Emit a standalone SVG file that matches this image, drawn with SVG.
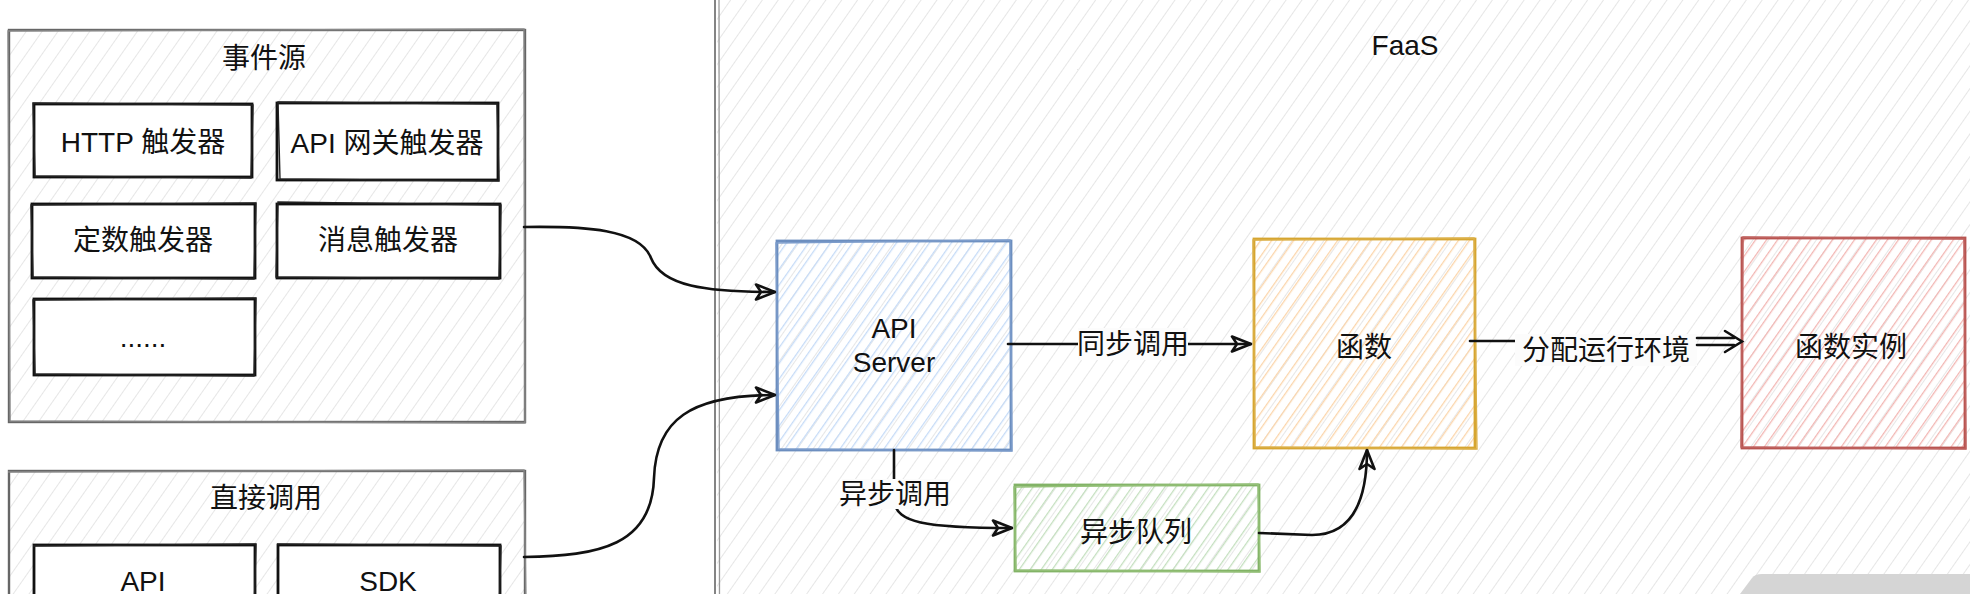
<svg xmlns="http://www.w3.org/2000/svg" width="1970" height="594" viewBox="0 0 1970 594">
<style>
  text { font-family: "Liberation Sans", "Noto Sans CJK SC", Arial, sans-serif; font-size: 28px; fill: #111; text-anchor: middle; }
  .outer { stroke: #666; stroke-width: 2.4; }
  .outer2 { fill: none; stroke: #888; stroke-width: 1.4; }
  .inner { fill: #fff; stroke: #111; stroke-width: 2.8; }
  .inner2 { fill: none; stroke: #222; stroke-width: 1.4; }
  .conn { fill: none; stroke: #111; stroke-width: 2.6; stroke-linecap: round; }
  .lbl { fill: #fcfcfc; }
</style>
<defs>
  <pattern id="hGray" width="13" height="13" patternUnits="userSpaceOnUse" patternTransform="rotate(35)">
    <line x1="0" y1="-1" x2="0" y2="14" stroke="#e3e3e3" stroke-width="1.8"/>
  </pattern>
  <pattern id="hBlue" width="9" height="9" patternUnits="userSpaceOnUse" patternTransform="rotate(35)">
    <line x1="0" y1="-1" x2="0" y2="10" stroke="#c6dbf7" stroke-width="2.6"/>
  </pattern>
  <pattern id="hOrange" width="9" height="9" patternUnits="userSpaceOnUse" patternTransform="rotate(35)">
    <line x1="0" y1="-1" x2="0" y2="10" stroke="#fbd5ab" stroke-width="2.6"/>
  </pattern>
  <pattern id="hRed" width="9" height="9" patternUnits="userSpaceOnUse" patternTransform="rotate(35)">
    <line x1="0" y1="-1" x2="0" y2="10" stroke="#f2b6b3" stroke-width="2.6"/>
  </pattern>
  <pattern id="hGreen" width="9" height="9" patternUnits="userSpaceOnUse" patternTransform="rotate(35)">
    <line x1="0" y1="-1" x2="0" y2="10" stroke="#c4dfbf" stroke-width="2.6"/>
  </pattern>
  <marker id="arr" viewBox="0 0 22 18" refX="21" refY="9" markerWidth="22" markerHeight="18" markerUnits="userSpaceOnUse" orient="auto">
    <path d="M2,1.5 L21,9 L2,16.5 L7,9 Z" fill="none" stroke="#111" stroke-width="2.6" stroke-linejoin="round"/>
  </marker>
</defs>

<rect x="0" y="0" width="1970" height="594" fill="#fff"/>

<g id="faas">
  <rect x="717" y="-10" width="1270" height="620" fill="url(#hGray)"/>
  <line x1="715" y1="0" x2="715" y2="594" stroke="#777" stroke-width="1.8"/>
  <line x1="719" y1="0" x2="719.5" y2="594" stroke="#999" stroke-width="1.3"/>
  <text x="1405" y="55">FaaS</text>
  <path d="M1740,594 L1752,578 Q1755,574 1762,574 L1970,574 L1970,594 Z" fill="#d5d5d5"/>
</g>

<g id="event-source">
  <rect x="9" y="30" width="516" height="392" fill="url(#hGray)" class="outer"/>
  <path d="M8,31 L524,29 L525,423 L10,421 Z" class="outer2"/>
  <text x="264" y="68">事件源</text>
</g>
<g id="http-trigger">
  <rect x="34" y="104" width="218" height="73" class="inner"/>
  <path d="M33,103 L253,105 L251,178 L35,176 Z" class="inner2"/>
  <text x="143" y="152">HTTP 触发器</text>
</g>
<g id="api-gateway-trigger">
  <rect x="277" y="103" width="221" height="77" class="inner"/>
  <path d="M278,102 L497,104 L499,181 L280,179 Z" class="inner2"/>
  <text x="387" y="153">API 网关触发器</text>
</g>
<g id="timer-trigger">
  <rect x="32" y="204" width="223" height="74" class="inner"/>
  <path d="M31,205 L256,203 L254,279 L33,277 Z" class="inner2"/>
  <text x="143" y="250">定数触发器</text>
</g>
<g id="message-trigger">
  <rect x="277" y="204" width="223" height="74" class="inner"/>
  <path d="M278,202 L501,205 L499,279 L276,277 Z" class="inner2"/>
  <text x="388" y="250">消息触发器</text>
</g>
<g id="more-trigger">
  <rect x="34" y="299" width="221" height="76" class="inner"/>
  <path d="M33,300 L256,298 L254,376 L35,374 Z" class="inner2"/>
  <text x="143" y="347">......</text>
</g>

<g id="direct-call">
  <rect x="9" y="471" width="516" height="140" fill="url(#hGray)" class="outer"/>
  <path d="M8,472 L524,470 L526,610" class="outer2"/>
  <text x="266" y="508">直接调用</text>
</g>
<g id="api-client">
  <rect x="34" y="545" width="221" height="70" class="inner"/>
  <path d="M33,546 L256,544 L254,615" class="inner2"/>
  <text x="143" y="591">API</text>
</g>
<g id="sdk-client">
  <rect x="278" y="545" width="222" height="70" class="inner"/>
  <path d="M277,544 L501,546 L499,615" class="inner2"/>
  <text x="388" y="591">SDK</text>
</g>

<g id="api-server">
  <rect x="777" y="241" width="234" height="209" fill="url(#hBlue)" stroke="#6c8ebf" stroke-width="2.8"/>
  <path d="M776,243 L1010,240 L1012,451 L779,449 Z" fill="none" stroke="#7c9ccb" stroke-width="1.4"/>
  <text x="894" y="338">API</text>
  <text x="894" y="372">Server</text>
</g>
<g id="function">
  <rect x="1254" y="239" width="221" height="209" fill="url(#hOrange)" stroke="#d6a530" stroke-width="2.8"/>
  <path d="M1253,240 L1474,238 L1477,449 L1255,447 Z" fill="none" stroke="#dcb048" stroke-width="1.4"/>
  <text x="1364" y="357">函数</text>
</g>
<g id="function-instance">
  <rect x="1742" y="238" width="223" height="210" fill="url(#hRed)" stroke="#b85450" stroke-width="2.8"/>
  <path d="M1743,237 L1964,239 L1966,449 L1741,447 Z" fill="none" stroke="#c06360" stroke-width="1.4"/>
  <text x="1851" y="357">函数实例</text>
</g>
<g id="async-queue">
  <rect x="1015" y="485" width="244" height="86" fill="url(#hGreen)" stroke="#82b366" stroke-width="2.8"/>
  <path d="M1014,487 L1258,484 L1260,572 L1016,570 Z" fill="none" stroke="#94c078" stroke-width="1.4"/>
  <text x="1136" y="542">异步队列</text>
</g>

<g id="connectors">
  <path class="conn" d="M524,227 C585,226 640,229 651,258 C662,286 705,292 775,292" marker-end="url(#arr)"/>
  <path class="conn" d="M524,557 C600,556 652,545 654,478 C656,420 690,395 775,395" marker-end="url(#arr)"/>
  <path class="conn" d="M1008,344 L1251,344" marker-end="url(#arr)"/>
  <rect class="lbl" x="1078" y="328" width="110" height="32"/>
  <text x="1133" y="354">同步调用</text>

  <path class="conn" d="M1470,341 L1520,341"/>
  <rect class="lbl" x="1515" y="334" width="182" height="32"/>
  <text x="1606" y="360">分配运行环境</text>
  <path class="conn" d="M1697,338 L1734,338 M1697,345 L1734,345 M1725,331 L1742,341.5 L1725,352"/>

  <path class="conn" d="M894,450 L894,502 C898,522 922,528 1012,528" marker-end="url(#arr)"/>
  <rect class="lbl" x="842" y="479" width="106" height="30"/>
  <text x="895" y="504">异步调用</text>

  <path class="conn" d="M1259,533 L1312,535 C1350,535 1367,505 1367,450" marker-end="url(#arr)"/>
</g>
</svg>
